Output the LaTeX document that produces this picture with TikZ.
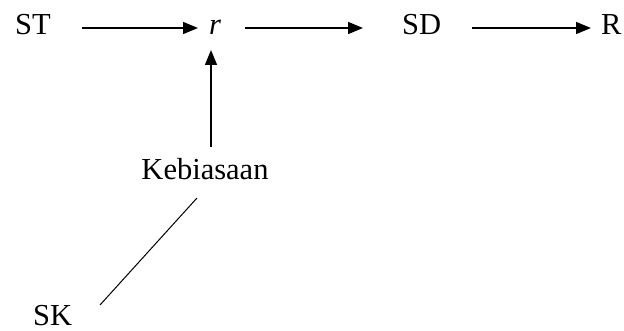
\documentclass[tikz,border=0pt]{standalone}
\usepackage{fontspec}
\setmainfont{Liberation Serif}
\usetikzlibrary{arrows.meta}
\begin{document}
\begin{tikzpicture}[x=1pt,y=-1pt,
  lbl/.style={inner sep=0pt,anchor=base west,font=\fontsize{30.5}{36}\selectfont},
  flow/.style={line width=1.5pt,-{Triangle[length=15pt,width=12pt]}},
  link/.style={line width=1pt}]
\useasboundingbox (0,0) rectangle (624,331);
% top chain
\node[lbl] (ST) at (15,35) {ST};
\node[lbl] (r)  at (209,35) {\textit{r}};
\node[lbl] (SD) at (402,35) {SD};
\node[lbl] (R)  at (601,35) {R};
% lower labels
\node[lbl,anchor=base] (K)  at (205,180) {Kebiasaan};
\node[lbl] (SK) at (33,325) {SK};
% arrow end points
\coordinate (a1s) at (82,28);  \coordinate (a1e) at (198,28);
\coordinate (a2s) at (245,28); \coordinate (a2e) at (363,28);
\coordinate (a3s) at (472,28); \coordinate (a3e) at (591,28);
\coordinate (vs) at (211,147); \coordinate (ve) at (211,50);
\coordinate (ls) at (197,198); \coordinate (le) at (100,305);
\draw[flow] (a1s) -- (a1e);
\draw[flow] (a2s) -- (a2e);
\draw[flow] (a3s) -- (a3e);
\draw[flow] (vs) -- (ve);
\draw[link] (ls) -- (le);
\end{tikzpicture}
\end{document}
